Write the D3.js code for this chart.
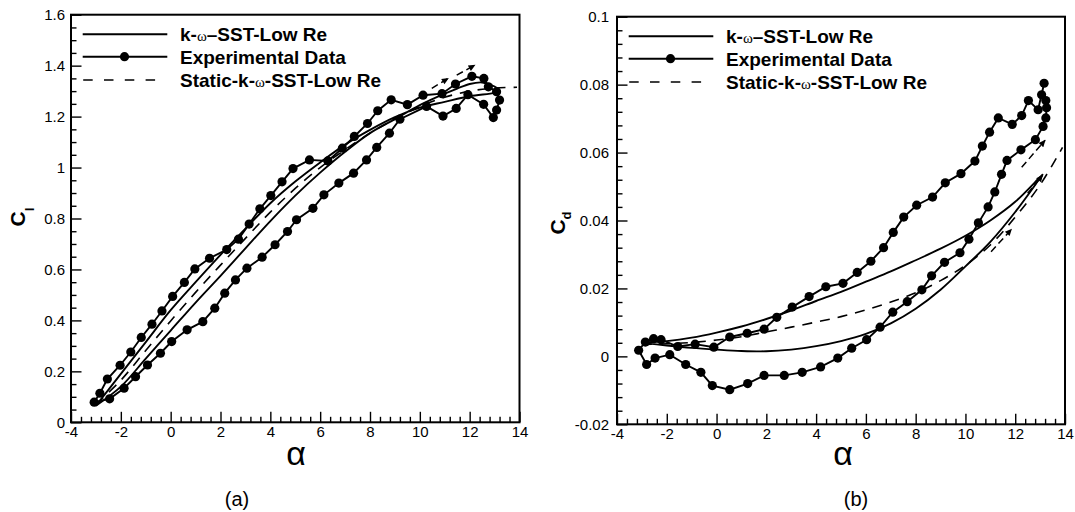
<!DOCTYPE html>
<html><head><meta charset="utf-8">
<script src="https://cdn.jsdelivr.net/npm/d3@7"></script>
<style>
body{margin:0;background:#fff;}
svg{display:block;}
text{font-family:"Liberation Sans",Arial,sans-serif;fill:#000;}
</style></head><body>
<svg id="chart" width="1075" height="512"></svg>
<script>
// ---------- data ----------
const alphaTicks = [-4,-2,0,2,4,6,8,10,12,14];
const clTicks = [0,0.2,0.4,0.6,0.8,1,1.2,1.4,1.6];
const cdTicks = [-0.02,0,0.02,0.04,0.06,0.08,0.1];
const legendLabels = ["k-|ω|–SST-Low Re","Experimental Data","Static-k-|ω|-SST-Low Re"];

// (a) lift coefficient
const clSST = [[-3.0,0.065],[-2,0.14],[-1,0.25],[0,0.36],[1,0.47],[2,0.575],[3,0.683],[4,0.79],[5,0.89],[6,0.98],[7,1.062],[8,1.135],[9,1.19],[10,1.245],[11,1.29],[11.5,1.31],[12,1.328],[12.5,1.334],[13,1.318],[13.2,1.30],
  [13,1.293],[12,1.28],[11,1.258],[10,1.235],[9,1.198],[8,1.148],[7,1.09],[6,1.02],[5,0.945],[4,0.86],[3,0.76],[2,0.657],[1,0.55],[0,0.44],[-1,0.315],[-2,0.19],[-3.0,0.065]];
const clExp = [[-3.07,0.079],[-2.84,0.114],[-2.54,0.170],[-2.03,0.224],[-1.60,0.276],[-1.18,0.333],[-0.75,0.385],[-0.35,0.437],[0.08,0.494],[0.55,0.549],[0.97,0.602],[1.56,0.644],[2.25,0.678],[2.72,0.719],[3.15,0.778],[3.58,0.838],[4.02,0.890],[4.47,0.944],[4.91,0.996],[5.57,1.030],[6.31,1.026],[6.89,1.076],[7.37,1.122],[7.90,1.173],[8.31,1.223],[8.85,1.266],[9.50,1.247],[10.13,1.284],[10.89,1.290],[11.43,1.328],[12.09,1.358],[12.57,1.350],[12.75,1.317],[13.08,1.298],[13.2,1.265],[13.08,1.226],[12.95,1.196],[12.56,1.248],[11.93,1.286],[11.46,1.232],[10.93,1.202],[10.27,1.240],[9.20,1.190],[8.78,1.135],[8.27,1.079],[7.86,1.030],[7.34,0.978],[6.75,0.939],[6.15,0.893],[5.71,0.840],[5.05,0.795],[4.69,0.749],[4.19,0.697],[3.67,0.648],[3.06,0.605],[2.60,0.559],[2.17,0.507],[1.77,0.448],[1.29,0.395],[0.66,0.363],[0.04,0.317],[-0.41,0.271],[-0.93,0.225],[-1.41,0.179],[-1.87,0.134],[-2.45,0.092],[-3.07,0.079]];
const clStatic = [[-3,0.07],[-2,0.165],[-1,0.282],[0,0.398],[1,0.51],[2,0.617],[3,0.722],[4,0.825],[5,0.918],[6,1.0],[7,1.07],[8,1.135],[9,1.19],[10,1.24],[11,1.276],[12,1.30],[13,1.312],[13.9,1.315]];
const clArrows = [[[10.48,1.311],[11.14,1.350]],[[11.48,1.363],[12.21,1.402]]];

// (b) drag coefficient
const cdSST = [[-3.0,0.004],[-2,0.0032],[-1,0.0025],[0,0.002],[1,0.0016],[2,0.0015],[3,0.002],[4,0.003],[5,0.0045],[6,0.0066],[7,0.0097],[8,0.014],[9,0.0196],[10,0.0265],[11,0.0337],[12,0.0425],[13,0.0525],[13.1,0.0535],
  [13,0.0528],[12,0.0455],[11,0.040],[10,0.0355],[9,0.0317],[8,0.0283],[7,0.025],[6,0.022],[5,0.019],[4,0.0163],[3,0.0135],[2,0.011],[1,0.0088],[0,0.007],[-1,0.0055],[-2,0.0045],[-3.0,0.004]];
const cdExp = [[-3.13,0.0018],[-2.81,-0.0024],[-2.47,-0.0005],[-1.88,0.0005],[-1.24,-0.0024],[-0.63,-0.0047],[-0.17,-0.0086],[0.53,-0.0098],[1.25,-0.0080],[1.91,-0.0056],[2.72,-0.0056],[3.44,-0.0047],[4.18,-0.0031],[4.87,-0.0005],[5.43,0.0024],[6.03,0.0049],[6.57,0.0086],[7.08,0.0130],[7.66,0.0161],[8.25,0.0196],[8.64,0.0237],[9.16,0.0277],[9.78,0.0305],[10.14,0.0345],[10.52,0.0393],[10.91,0.0440],[11.18,0.0484],[11.45,0.0536],[11.67,0.0577],[12.23,0.0608],[12.81,0.0638],[13.12,0.0677],[13.23,0.0702],[13.26,0.0732],[13.23,0.0753],[13.06,0.0770],[13.16,0.0804],[12.92,0.0726],[12.53,0.0753],[12.26,0.0709],[11.88,0.0683],[11.32,0.0702],[10.97,0.0660],[10.68,0.0619],[10.38,0.0575],[9.82,0.0538],[9.19,0.0511],[8.68,0.0469],[8.04,0.0445],[7.52,0.0410],[7.10,0.0365],[6.71,0.0320],[6.20,0.0280],[5.65,0.0247],[5.08,0.0215],[4.39,0.0205],[3.72,0.0176],[3.04,0.0145],[2.42,0.0115],[1.91,0.0080],[1.23,0.0068],[0.53,0.0057],[-0.11,0.0027],[-0.86,0.0036],[-1.56,0.0029],[-2.23,0.0049],[-2.53,0.0052],[-2.86,0.0042],[-3.13,0.0018]];
const cdStatic = [[-3,0.0035],[-2,0.0037],[-1,0.0041],[0,0.0048],[1,0.0058],[2,0.0072],[3,0.0086],[4,0.0101],[5,0.0117],[6,0.0137],[7,0.016],[8,0.0187],[9,0.0223],[10,0.0268],[11,0.0328],[12,0.041],[13,0.0505],[13.9,0.0615]];
const cdArrows = [[[12.26,0.0557],[13.2,0.0636]],[[11.03,0.0308],[11.85,0.0374]],[[12.5,0.0480],[13.1,0.0533]]];

// ---------- drawing ----------
const svg = d3.select("#chart");
const defs = svg.append("defs");
defs.append("marker").attr("id","arrowhead").attr("viewBox","0 0 10 10")
  .attr("refX",9).attr("refY",5).attr("markerWidth",11).attr("markerHeight",7)
  .attr("markerUnits","userSpaceOnUse").attr("orient","auto")
  .append("path").attr("d","M0,0.5 L10,5 L0,9.5 Z").attr("fill","#000");

const panels = [
  {x0:71, x1:519.5, yb:422.3, yt:14.7, yDomain:[0,1.6], yTicks:clTicks, yMinor:0.05,
   sst:clSST, exp:clExp, stat:clStatic, arrows:clArrows, sub:"l", subDy:9,
   tag:"(a)", tagX:237, alphaX:296, ylabX:25, ylabY:217, gap:6},
  {x0:617, x1:1065, yb:424.3, yt:16.7, yDomain:[-0.02,0.1], yTicks:cdTicks, yMinor:0.004,
   sst:cdSST, exp:cdExp, stat:cdStatic, arrows:cdArrows, sub:"d", subDy:6,
   tag:"(b)", tagX:856, alphaX:843, ylabX:565, ylabY:223, gap:8}
];

panels.forEach((p, i) => {
  const x = d3.scaleLinear().domain([-4,14]).range([p.x0, p.x1]);
  const y = d3.scaleLinear().domain(p.yDomain).range([p.yb, p.yt]);
  const g = svg.append("g");
  const clipId = "clip" + i;
  defs.append("clipPath").attr("id", clipId).append("rect")
    .attr("x", p.x0).attr("y", p.yt).attr("width", p.x1 - p.x0).attr("height", p.yb - p.yt);

  // minor tick positions
  const xMinor = d3.range(0, 46).map(k => +(-4 + k*0.4).toFixed(3)).filter(v => Math.abs(v/2 - Math.round(v/2)) > 1e-6);
  const nY = Math.round((p.yDomain[1]-p.yDomain[0]) / p.yMinor);
  const majorStep = p.yTicks[1] - p.yTicks[0];
  const yMinor = d3.range(0, nY+1).map(k => +(p.yDomain[0] + k*p.yMinor).toFixed(4))
    .filter(v => Math.abs((v - p.yDomain[0])/majorStep - Math.round((v - p.yDomain[0])/majorStep)) > 1e-6);

  const axStyle = sel => { sel.select(".domain").remove(); sel.selectAll("line").attr("stroke","#000").attr("stroke-width",1.4); };

  g.append("g").attr("transform", `translate(0,${p.yb})`)
    .call(d3.axisBottom(x).tickValues(xMinor).tickSizeInner(-5.5).tickSizeOuter(0).tickFormat(""))
    .call(axStyle);
  g.append("g").attr("transform", `translate(${p.x0},0)`)
    .call(d3.axisLeft(y).tickValues(yMinor).tickSizeInner(-5.5).tickSizeOuter(0).tickFormat(""))
    .call(axStyle);

  const xa = g.append("g").attr("transform", `translate(0,${p.yb})`)
    .call(d3.axisBottom(x).tickValues(alphaTicks).tickSizeInner(-10.5).tickSizeOuter(0).tickPadding(4.5).tickFormat(d => String(d)))
    .call(axStyle);
  xa.selectAll("text").attr("font-size", 15).attr("font-family", "'Liberation Sans',Arial,sans-serif").attr("fill","#000");

  const ya = g.append("g").attr("transform", `translate(${p.x0},0)`)
    .call(d3.axisLeft(y).tickValues(p.yTicks).tickSizeInner(-10.5).tickSizeOuter(0).tickPadding(p.gap).tickFormat(d => String(d)))
    .call(axStyle);
  ya.selectAll("text").attr("font-size", 15).attr("font-family", "'Liberation Sans',Arial,sans-serif").attr("fill","#000");

  const plot = g.append("g").attr("clip-path", `url(#${clipId})`);

  const smooth = d3.line().x(d => x(d[0])).y(d => y(d[1])).curve(d3.curveCatmullRom.alpha(0.5));
  const straight = d3.line().x(d => x(d[0])).y(d => y(d[1]));

  // static (dashed)
  plot.append("path").attr("d", smooth(p.stat)).attr("fill","none").attr("stroke","#000")
    .attr("stroke-width",1.6).attr("stroke-dasharray","10,8");
  // SST loop
  plot.append("path").attr("d", smooth(p.sst)).attr("fill","none").attr("stroke","#000").attr("stroke-width",1.9);
  // experiment
  plot.append("path").attr("d", straight(p.exp)).attr("fill","none").attr("stroke","#000").attr("stroke-width",1.9);
  plot.selectAll("circle.exp").data(p.exp.slice(0, -1)).enter().append("circle")
    .attr("cx", d => x(d[0])).attr("cy", d => y(d[1])).attr("r", 4.6).attr("fill","#000");
  // direction arrows
  p.arrows.forEach(a => {
    plot.append("path").attr("d", straight(a)).attr("fill","none").attr("stroke","#000")
      .attr("stroke-width",1.5).attr("stroke-dasharray","7,4").attr("marker-end","url(#arrowhead)");
  });

  // frame
  g.append("rect").attr("x", p.x0).attr("y", p.yt).attr("width", p.x1 - p.x0).attr("height", p.yb - p.yt)
    .attr("fill","none").attr("stroke","#000").attr("stroke-width",2);

  // legend
  const lx0 = p.x0 + 11.7, lx1 = p.x0 + 96.3, tx = p.x0 + 109;
  const rows = [p.yt + 19.6, p.yt + 42, p.yt + 65.3];
  const lg = g.append("g");
  lg.append("line").attr("x1",lx0).attr("x2",lx1).attr("y1",rows[0]).attr("y2",rows[0]).attr("stroke","#000").attr("stroke-width",1.9);
  lg.append("line").attr("x1",lx0).attr("x2",lx1).attr("y1",rows[1]).attr("y2",rows[1]).attr("stroke","#000").attr("stroke-width",1.9);
  lg.append("circle").attr("cx",(lx0+lx1)/2 - 0.5).attr("cy",rows[1]).attr("r",4.6).attr("fill","#000");
  lg.append("line").attr("x1",lx0 + 0.5).attr("x2",lx1 - 8).attr("y1",rows[2]).attr("y2",rows[2]).attr("stroke","#000").attr("stroke-width",1.7).attr("stroke-dasharray","9.5,11.3");
  legendLabels.forEach((lab, k) => {
    const t = lg.append("text").attr("x", tx).attr("y", rows[k]).attr("dy","0.36em")
      .attr("font-size",19).attr("font-weight","bold");
    lab.split("|").forEach((part, j) => {
      const ts = t.append("tspan").text(part);
      if (j % 2 === 1) ts.attr("font-family","'Liberation Serif','Times New Roman',serif").attr("font-weight","normal").attr("font-size",15);
    });
  });

  // axis titles
  g.append("text").attr("x", p.alphaX).attr("y", 465).attr("text-anchor","middle")
    .attr("font-family","'Liberation Serif','Times New Roman',serif").attr("font-size",34).text("α");
  const yl = g.append("text").attr("transform", `translate(${p.ylabX},${p.ylabY}) rotate(-90)`)
    .attr("text-anchor","middle").attr("font-weight","bold").attr("font-size",21);
  yl.append("tspan").text("C");
  yl.append("tspan").attr("dy", p.subDy).attr("font-size",13).text(p.sub);

  g.append("text").attr("x", p.tagX).attr("y", 506).attr("text-anchor","middle")
    .attr("font-family","'Liberation Serif','Times New Roman',serif").attr("font-size",20).text(p.tag);
});
</script>
</body></html>
